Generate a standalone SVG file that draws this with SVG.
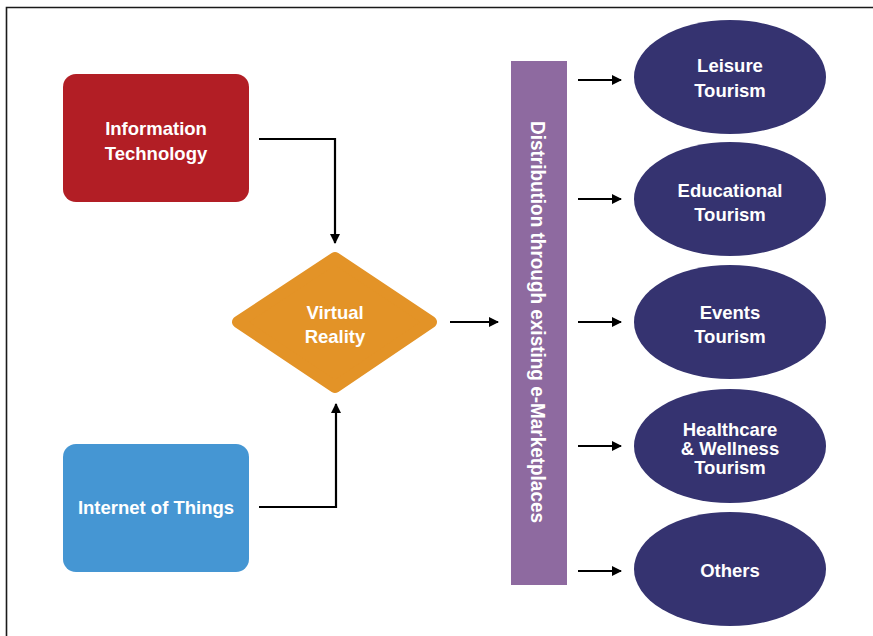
<svg xmlns="http://www.w3.org/2000/svg" width="873" height="636" viewBox="0 0 873 636">
  <defs>
    <marker id="arrow" markerUnits="userSpaceOnUse" markerWidth="11" markerHeight="11" refX="9" refY="5.5" orient="auto">
      <path d="M0,0.5 L10,5.5 L0,10.5 Z" fill="#000"/>
    </marker>
    <style>
      .lbl { font-family: "Liberation Sans", Arial, sans-serif; font-weight: bold; font-size: 18.5px; fill: #fff; text-anchor: middle; }
      .conn { fill: none; stroke: #000; stroke-width: 2.2; }
      .oval { fill: #353370; }
    </style>
  </defs>

  <rect width="873" height="636" fill="#fff"/>
  <!-- outer frame -->
  <path d="M6.5,640 V7.5 H880" fill="none" stroke="#1a1a1a" stroke-width="1.6"/>

  <g id="information-technology">
    <rect x="63" y="74" width="186" height="128" rx="13" fill="#B21E25"/>
    <text class="lbl" x="156" y="135">Information</text>
    <text class="lbl" x="156" y="160">Technology</text>
  </g>

  <g id="internet-of-things">
    <rect x="63" y="444" width="186" height="128" rx="13" fill="#4596D3"/>
    <text class="lbl" x="156" y="514">Internet of Things</text>
  </g>

  <g id="virtual-reality">
    <polygon points="238,322 335,258 431,322 335,387" fill="#E39327" stroke="#E39327" stroke-width="12" stroke-linejoin="round"/>
    <text class="lbl" x="335" y="319">Virtual</text>
    <text class="lbl" x="335" y="343">Reality</text>
  </g>

  <g id="distribution">
    <rect x="511" y="61" width="56" height="524" fill="#8E6AA0"/>
    <text class="lbl" style="font-size:20px" transform="translate(531,322) rotate(90)" x="0" y="0" textLength="402" lengthAdjust="spacingAndGlyphs">Distribution through existing e-Marketplaces</text>
  </g>

  <g id="leisure-tourism">
    <ellipse class="oval" cx="730" cy="77" rx="96" ry="57"/>
    <text class="lbl" x="730" y="72">Leisure</text>
    <text class="lbl" x="730" y="97">Tourism</text>
  </g>

  <g id="educational-tourism">
    <ellipse class="oval" cx="730" cy="199" rx="96" ry="57"/>
    <text class="lbl" x="730" y="197">Educational</text>
    <text class="lbl" x="730" y="221">Tourism</text>
  </g>

  <g id="events-tourism">
    <ellipse class="oval" cx="730" cy="322" rx="96" ry="57"/>
    <text class="lbl" x="730" y="319">Events</text>
    <text class="lbl" x="730" y="343">Tourism</text>
  </g>

  <g id="healthcare-wellness-tourism">
    <ellipse class="oval" cx="730" cy="446" rx="96" ry="57"/>
    <text class="lbl" x="730" y="436">Healthcare</text>
    <text class="lbl" x="730" y="455">&amp; Wellness</text>
    <text class="lbl" x="730" y="474">Tourism</text>
  </g>

  <g id="others">
    <ellipse class="oval" cx="730" cy="569" rx="96" ry="57"/>
    <text class="lbl" x="730" y="577">Others</text>
  </g>

  <g id="connectors">
    <path class="conn" d="M259,139 H335 V243" marker-end="url(#arrow)"/>
    <path class="conn" d="M259,507 H336 V404" marker-end="url(#arrow)"/>
    <path class="conn" d="M450,322 H498" marker-end="url(#arrow)"/>
    <path class="conn" d="M578,80 H621" marker-end="url(#arrow)"/>
    <path class="conn" d="M578,199 H621" marker-end="url(#arrow)"/>
    <path class="conn" d="M578,322 H621" marker-end="url(#arrow)"/>
    <path class="conn" d="M578,446 H621" marker-end="url(#arrow)"/>
    <path class="conn" d="M578,571 H621" marker-end="url(#arrow)"/>
  </g>
</svg>
